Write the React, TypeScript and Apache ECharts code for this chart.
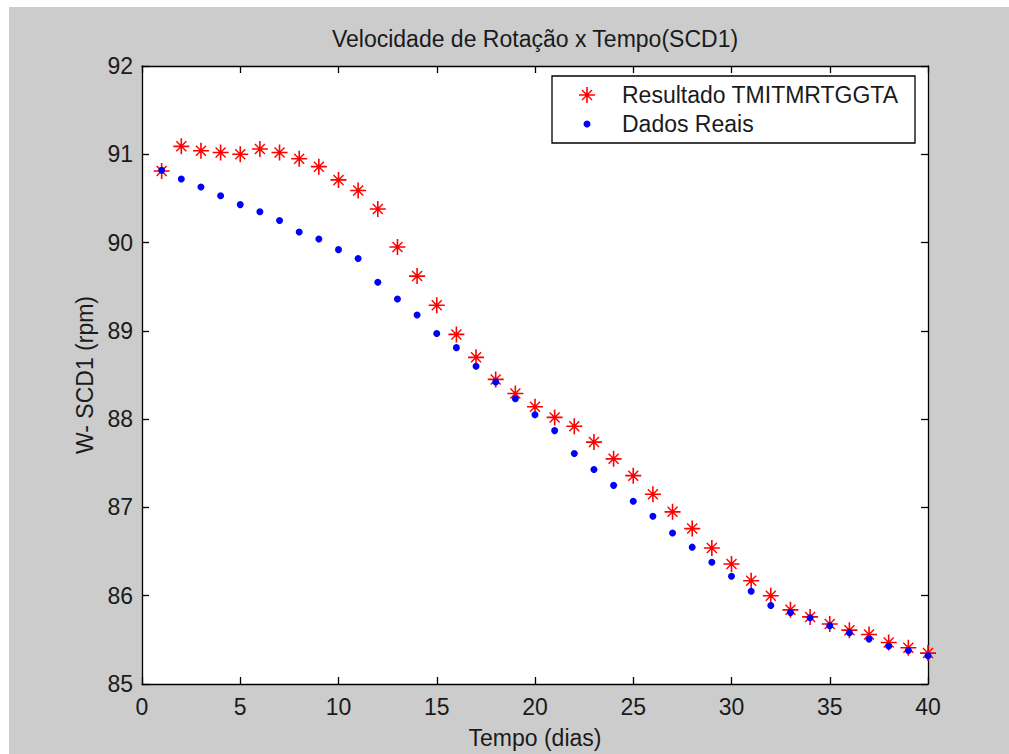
import React, { useEffect, useRef } from "react";
import * as echarts from "echarts";

const days = [1, 2, 3, 4, 5, 6, 7, 8, 9, 10, 11, 12, 13, 14, 15, 16, 17, 18, 19, 20, 21, 22, 23, 24, 25, 26, 27, 28, 29, 30, 31, 32, 33, 34, 35, 36, 37, 38, 39, 40];
const resultado = [90.81, 91.09, 91.04, 91.02, 91.0, 91.06, 91.02, 90.95, 90.86, 90.71, 90.59, 90.38, 89.95, 89.62, 89.29, 88.96, 88.7, 88.45, 88.29, 88.14, 88.02, 87.92, 87.74, 87.55, 87.36, 87.15, 86.95, 86.76, 86.54, 86.36, 86.17, 86.0, 85.84, 85.76, 85.68, 85.61, 85.56, 85.47, 85.41, 85.35];
const dadosReais = [90.82, 90.72, 90.63, 90.53, 90.43, 90.35, 90.25, 90.12, 90.04, 89.92, 89.82, 89.55, 89.36, 89.18, 88.97, 88.81, 88.6, 88.42, 88.23, 88.05, 87.87, 87.61, 87.43, 87.25, 87.07, 86.9, 86.71, 86.55, 86.38, 86.22, 86.05, 85.89, 85.81, 85.75, 85.66, 85.58, 85.51, 85.43, 85.38, 85.32];
const seriesNames = ["Resultado TMITMRTGGTA", "Dados Reais"];
const titleText = "Velocidade de Rotação x Tempo(SCD1)";
const xName = "Tempo (dias)";
const yName = "W- SCD1 (rpm)";

const FONT = "'Liberation Sans', Arial, sans-serif";
const FS = 23;
const TXT = "#1a1a1a";
const STAR =
  "path://M7.2 0L8.8 0L8.8 16L7.2 16Z M0 7.2L16 7.2L16 8.8L0 8.8Z M3.5 2.5L13.5 12.5L12.5 13.5L2.5 3.5Z M12.5 2.5L13.5 3.5L3.5 13.5L2.5 12.5Z M6 6L10 6L10 10L6 10Z";

export default function App() {
  const ref = useRef<HTMLDivElement>(null);
  useEffect(() => {
    if (!ref.current) return;
    const chart = echarts.init(ref.current, undefined, { renderer: "svg" });
    const axisCommon = {
      type: "value" as const,
      axisLine: { show: true, onZero: false, lineStyle: { color: "#000", width: 1.3 } },
      axisTick: { show: true, inside: true, length: 7, lineStyle: { color: "#000", width: 1.3 } },
      splitLine: { show: false },
    };
    chart.setOption({
      animation: false,
      backgroundColor: "#cccccc",
      textStyle: { fontFamily: FONT },
      title: {
        text: titleText,
        left: 526,
        top: 20,
        textAlign: "center",
        padding: 0,
        textStyle: { fontFamily: FONT, fontSize: FS, fontWeight: "normal", color: TXT },
      },
      grid: { left: 133, top: 59, right: 81, bottom: 70, show: true, backgroundColor: "#ffffff", borderWidth: 0 },
      xAxis: [
        {
          ...axisCommon,
          min: 0,
          max: 40,
          interval: 5,
          position: "bottom",
          name: xName,
          nameLocation: "middle",
          nameGap: 42,
          nameTextStyle: { fontFamily: FONT, fontSize: FS, color: TXT },
          axisLabel: { show: true, margin: 11, fontFamily: FONT, fontSize: FS, color: TXT },
        },
        {
          ...axisCommon,
          min: 0,
          max: 40,
          interval: 5,
          position: "top",
          axisLabel: { show: false },
        },
      ],
      yAxis: [
        {
          ...axisCommon,
          min: 85,
          max: 92,
          interval: 1,
          position: "left",
          name: yName,
          nameLocation: "middle",
          nameGap: 42,
          nameTextStyle: { fontFamily: FONT, fontSize: FS, color: TXT },
          axisLabel: { show: true, margin: 9, fontFamily: FONT, fontSize: FS, color: TXT },
        },
        {
          ...axisCommon,
          min: 85,
          max: 92,
          interval: 1,
          position: "right",
          axisLabel: { show: false },
        },
      ],
      legend: [
        {
          data: [seriesNames[0]],
          left: 570,
          top: 76.5,
          padding: 0,
          itemWidth: 16,
          itemHeight: 16,
          selectedMode: false,
          textStyle: { fontFamily: FONT, fontSize: FS, color: TXT, lineHeight: 23, padding: [0, 0, 0, 22] },
        },
        {
          data: [seriesNames[1]],
          left: 574.5,
          top: 105.5,
          padding: 0,
          itemWidth: 7,
          itemHeight: 7,
          selectedMode: false,
          textStyle: { fontFamily: FONT, fontSize: FS, color: TXT, lineHeight: 23, padding: [0, 0, 0, 26.5] },
        },
      ],
      graphic: [
        {
          type: "rect",
          z: 3,
          shape: { x: 543, y: 69, width: 363, height: 67 },
          style: { fill: "#ffffff", stroke: "#000", lineWidth: 1.3 },
        },
      ],
      series: [
        {
          name: seriesNames[0],
          type: "scatter",
          symbol: STAR,
          symbolSize: 16,
          itemStyle: { color: "#ff0000", opacity: 1 },
          data: days.map((d, i) => [d, resultado[i]]),
          z: 2,
        },
        {
          name: seriesNames[1],
          type: "scatter",
          symbol: "circle",
          symbolSize: 7,
          itemStyle: { color: "#0000ff", opacity: 1 },
          data: days.map((d, i) => [d, dadosReais[i]]),
          z: 3,
        },
      ],
    });
    return () => chart.dispose();
  }, []);
  return (
    <div style={{ position: "fixed", left: 0, top: 0, width: 1009, height: 754, background: "#ffffff" }}>
      <div ref={ref} style={{ position: "absolute", left: 9, top: 7, width: 1000, height: 747 }} />
    </div>
  );
}
